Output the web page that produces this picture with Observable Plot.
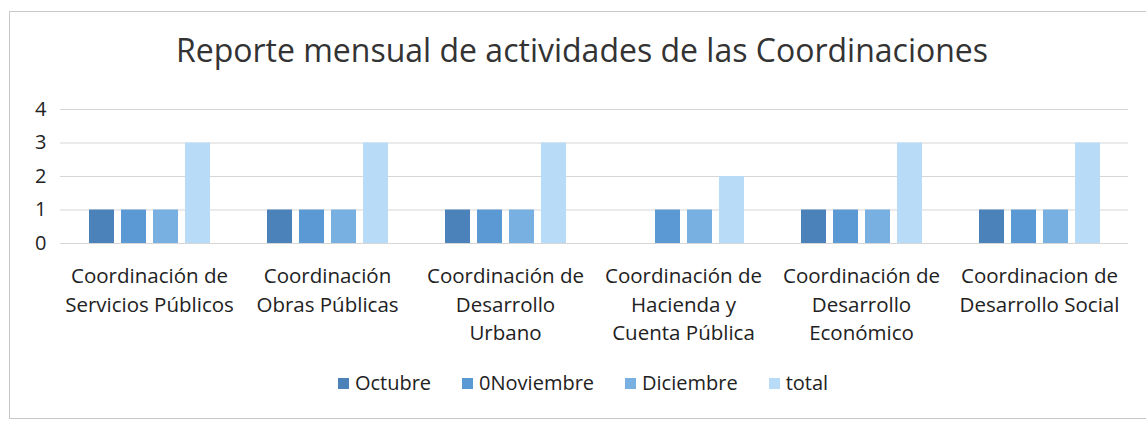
<!DOCTYPE html>
<html>
<head>
<meta charset="utf-8">
<script src="https://cdn.jsdelivr.net/npm/d3@7"></script>
<script src="https://cdn.jsdelivr.net/npm/@observablehq/plot@0.6"></script>
<style>
  html, body { margin: 0; padding: 0; background: #fff; }
  #wrap { position: relative; width: 1146px; height: 422px; overflow: hidden; font-family: "Open Sans", sans-serif; color: #222; }
  #frame { position: absolute; left: 9px; top: 11px; width: 1150px; height: 408px; border: 1px solid #c8c8c8; box-sizing: border-box; }
  #title { position: absolute; left: 9px; width: 1146px; top: 28px; text-align: center; font-size: 32px; line-height: 44px; color: #333; white-space: nowrap; }
  #chart { position: absolute; left: 0; top: 90px; }
  #legend { position: absolute; left: 10px; width: 1146px; top: 369px; display: flex; justify-content: center; gap: 31px; font-size: 20px; line-height: 28px; color: #222; }
  #legend .item { display: flex; align-items: center; gap: 6px; }
  #legend .sw { width: 11px; height: 11px; display: inline-block; }
</style>
</head>
<body>
<div id="wrap">
  <div id="frame"></div>
  <div id="title">Reporte mensual de actividades de las Coordinaciones</div>
  <div id="chart"></div>
  <div id="legend"></div>
</div>
<script>
const categories = [
  "Coordinación de\nServicios Públicos",
  "Coordinación\nObras Públicas",
  "Coordinación de\nDesarrollo\nUrbano",
  "Coordinación de\nHacienda y\nCuenta Pública",
  "Coordinación de\nDesarrollo\nEconómico",
  "Coordinacion de\nDesarrollo Social"
];
const seriesNames = ["Octubre", "0Noviembre", "Diciembre", "total"];
const seriesColors = ["#4c82ba", "#5a99d4", "#78b0e2", "#b8dcf8"];
const octubre   = [1, 1, 1, null, 1, 1];
const noviembre = [1, 1, 1, 1, 1, 1];
const diciembre = [1, 1, 1, 1, 1, 1];
const total     = [3, 3, 3, 2, 3, 3];
const yTicks = [0, 1, 2, 3, 4];

const seriesValues = [octubre, noviembre, diciembre, total];
const data = [];
categories.forEach((c, i) => {
  seriesNames.forEach((s, j) => {
    const v = seriesValues[j][i];
    if (v != null) data.push({category: c, series: s, value: v});
  });
});
const gridData = categories.flatMap(c => yTicks.map(t => ({category: c, t})));

const chart = Plot.plot({
  width: 1146,
  height: 260,
  marginLeft: 60,
  marginRight: 18,
  marginTop: 19,
  marginBottom: 107,
  style: {fontFamily: "Open Sans, sans-serif", color: "#222", background: "transparent"},
  fx: {domain: categories, padding: 0, label: null},
  x: {domain: seriesNames, paddingInner: 0.22, paddingOuter: 0.89, axis: null},
  y: {domain: [0, 4], ticks: yTicks, label: null},
  color: {domain: seriesNames, range: seriesColors},
  marks: [
    Plot.ruleY(gridData, {fx: "category", y: "t", stroke: "#d6d6d6", strokeWidth: 1}),
    Plot.barY(data, {fx: "category", x: "series", y: "value", fill: "series"}),
    Plot.axisY({ticks: yTicks, tickFormat: d3.format("d"), tickSize: 0, tickPadding: 14, fontSize: 20, label: null, anchor: "left"}),
    Plot.axisFx({tickSize: 0, tickPadding: 20, fontSize: 20.5, lineHeight: 1.37, label: null, anchor: "bottom"})
  ]
});
document.getElementById("chart").appendChild(chart);

const legend = document.getElementById("legend");
seriesNames.forEach((s, j) => {
  const item = document.createElement("span");
  item.className = "item";
  const sw = document.createElement("span");
  sw.className = "sw";
  sw.style.background = seriesColors[j];
  const t = document.createElement("span");
  t.textContent = s;
  item.appendChild(sw);
  item.appendChild(t);
  legend.appendChild(item);
});
</script>
</body>
</html>
